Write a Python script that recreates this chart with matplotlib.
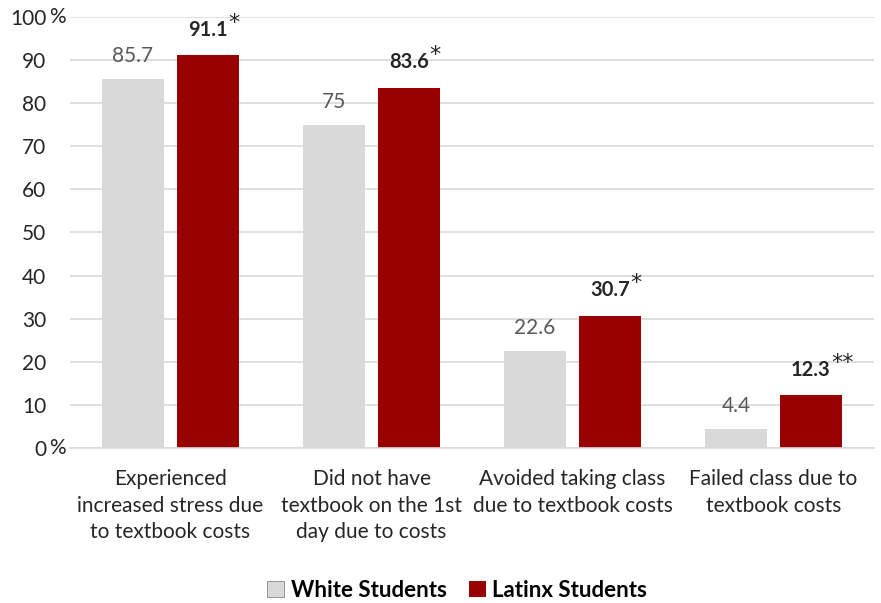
import matplotlib
matplotlib.use("Agg")
import matplotlib.pyplot as plt
import numpy as np
from matplotlib.patches import Patch

plt.rcParams['font.family'] = ['Lato', 'DejaVu Sans']

categories = ["Experienced\nincreased stress due\nto textbook costs",
              "Did not have\ntextbook on the 1st\nday due to costs",
              "Avoided taking class\ndue to textbook costs",
              "Failed class due to\ntextbook costs"]
white = [85.7, 75, 22.6, 4.4]
latinx = [91.1, 83.6, 30.7, 12.3]
white_lbl = ["85.7", "75", "22.6", "4.4"]
latinx_lbl = ["91.1", "83.6", "30.7", "12.3"]
stars = ["*", "*", "*", "**"]
yticks = [0, 10, 20, 30, 40, 50, 60, 70, 80, 90, 100]
ytick_lbl = ["0", "10", "20", "30", "40", "50", "60", "70", "80", "90", "100"]

gray = "#d9d9d9"
red = "#990000"
txt = "#262626"

fig = plt.figure(figsize=(8.81, 6.03), dpi=100)
ax = fig.add_axes([0.0795, 0.257, 0.9125, 0.715])

x = np.arange(len(categories))
w = 0.31
off = 0.187
b1 = ax.bar(x - off, white, w, color=gray, zorder=2)
b2 = ax.bar(x + off, latinx, w, color=red, zorder=2)

for i in range(len(x)):
    ax.annotate(white_lbl[i], (x[i] - off, white[i]), xytext=(0, 12), textcoords="offset points",
                ha="center", va="baseline", fontsize=15, color="#595959")
    t = ax.annotate(latinx_lbl[i], (x[i] + off, latinx[i]), xytext=(0, 14), textcoords="offset points",
                    ha="center", va="baseline", fontsize=14.5, fontweight="bold", color=txt)
    # asterisks drawn in DejaVu, Lato's are too small
    ax.annotate(stars[i], xy=(1, 1), xycoords=t, xytext=(0.5, 5), textcoords="offset points",
                ha="left", va="top", fontsize=16, color=txt, family="DejaVu Sans")

ax.set_xlim(-0.5, 3.5)
ax.set_ylim(0, 100)
ax.set_yticks(yticks)
ax.set_yticklabels(ytick_lbl, fontsize=15, color=txt)
# percent signs hang to the right of 0 and 100
for v in [0, 100]:
    ax.annotate("%", xy=(0, v), xycoords=("axes fraction", "data"), xytext=(-3, 0),
                textcoords="offset points", ha="right", va="center", fontsize=15, color=txt)
ax.set_xticks(x)
ax.set_xticklabels(categories, fontsize=15, color=txt, linespacing=1.42)
ax.tick_params(axis="y", length=0, pad=17)
ax.tick_params(axis="x", length=0, pad=15)
ax.yaxis.grid(True, color=gray, linewidth=1.2, zorder=0)
ax.set_axisbelow(True)
for s in ["top", "right", "left"]:
    ax.spines[s].set_visible(False)
ax.spines["bottom"].set_color(gray)
ax.spines["bottom"].set_linewidth(1.2)

handles = [Patch(facecolor=gray, edgecolor="#888888", linewidth=0.6, label="White Students"),
           Patch(facecolor=red, label="Latinx Students")]
fig.legend(handles=handles, loc="center", bbox_to_anchor=(0.519, 0.021), ncol=2, frameon=False,
           prop={"weight": "bold", "size": 16}, handlelength=0.75, handleheight=0.75,
           handletextpad=0.3, columnspacing=1.0)

fig.savefig("out.png", dpi=100)
